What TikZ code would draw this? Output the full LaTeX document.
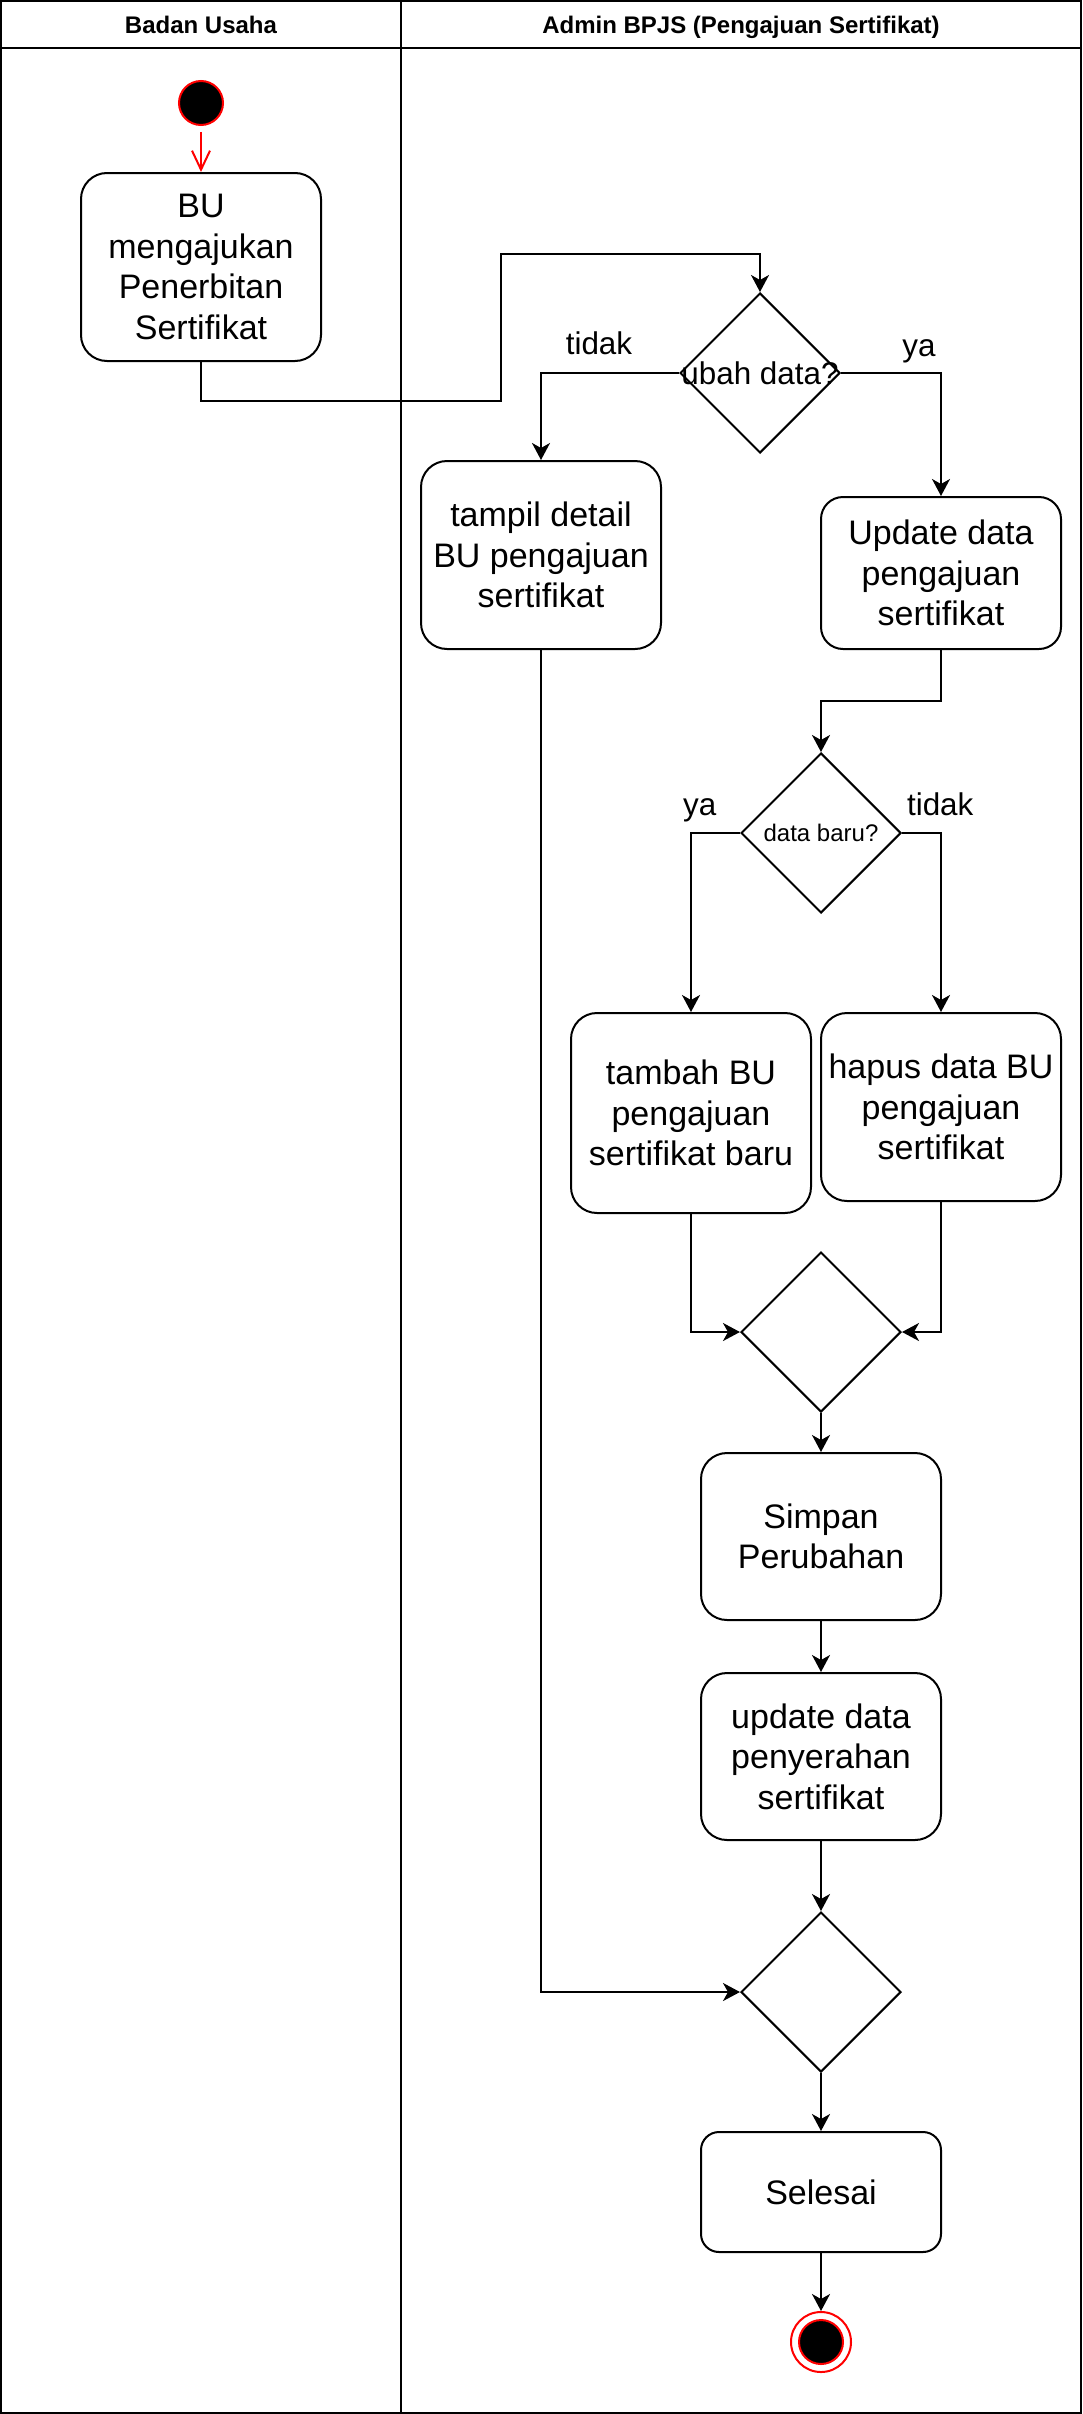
\documentclass[tikz,border=0pt]{standalone}
\usepackage{fontspec}
\setmainfont{Liberation Sans}
\usetikzlibrary{
  arrows.meta,
  shapes.geometric,
  positioning
}
\tikzset{
  flow/.style={-{Stealth[length=8.5pt,width=9pt,inset=2.5pt]}, line width=1pt},
  act/.style={draw, line width=1pt, rounded corners=13pt, minimum width=120pt,
    inner sep=0pt, align=center, font=\fontsize{17}{20.3}\selectfont},
  dec/.style={draw, diamond, line width=1pt, minimum width=80pt,
    minimum height=80pt, inner sep=0pt},
  lbl/.style={font=\fontsize{15.7}{18}\selectfont, text height=11.3pt, text depth=0pt},
  lane/.style={draw, line width=1pt},
  head/.style={font=\bfseries\fontsize{12}{14}\selectfont, text height=8.7pt, text depth=0pt}
}

\begin{document}
\begin{tikzpicture}[x=1pt, y=-1pt]
    \useasboundingbox (0,0) rectangle (541,1207);
    % swimlanes
    \draw[lane] (0.5,0.5) rectangle (540.5,1206.5);
    \draw[lane] (0.5,24) -- (540.5,24);
    \draw[lane] (200.5,0.5) -- (200.5,1206.5);
    \node[head] (hbu) at (100.5,12.3) {Badan Usaha};
    \node[head] (hadm) at (370.5,12.3) {Admin BPJS (Pengajuan Sertifikat)};

    \node[circle, draw=red, fill=black, line width=1pt, minimum size=22pt, inner sep=0pt] (start) at (100.5,51.5) {};
    \node[act, minimum height=94pt] (bu) at (100.5,133.5) {BU\\mengajukan\\Penerbitan\\Sertifikat};
    \node[dec, label={[lbl]center:ubah data?}] (d1) at (380,186.5) {};
    \node[act, minimum height=94pt] (tampil) at (270.5,277.5) {tampil detail\\BU pengajuan\\sertifikat};
    \node[act, minimum height=76pt, rounded corners=11pt] (upd) at (470.5,286.5) {Update data\\pengajuan\\sertifikat};
    \node[dec, label={[font=\fontsize{12}{14}\selectfont]center:data baru?}] (d2) at (410.5,416.5) {};
    \node[act, minimum height=100pt] (tambah) at (345.5,556.5) {tambah BU\\pengajuan\\sertifikat baru};
    \node[act, minimum height=94pt] (hapus) at (470.5,553.5) {hapus data BU\\pengajuan\\sertifikat};
    \node[dec] (m1) at (410.5,666) {};
    \node[act, minimum height=83.5pt, below=19.5pt of m1] (simpan) {Simpan\\Perubahan};
    \node[act, minimum height=83.5pt, below=25.5pt of simpan] (upd2) {update data\\penyerahan\\sertifikat};
    \node[dec, below=35pt of upd2] (d3) {};
    \node[act, minimum height=60pt, rounded corners=9pt, below=29pt of d3] (selesai) {Selesai};
    \node[circle, draw=red, fill=white, line width=1pt, minimum size=30pt, inner sep=0pt, below=29pt of selesai] (fin) {};
    \node[circle, draw=red, fill=black, line width=1pt, minimum size=22pt, inner sep=0pt] (fincore) at (fin) {};

    \draw[red, line width=1pt, -{Straight Barb[length=9.5pt,width=9pt]}, shorten <=3pt] (start) -- (bu);
    \draw[flow] (bu.south) -- ++(0,19.5) -| ++(150,-73.5) -| (d1.north);
    \draw[flow] (d1.west) -| node[lbl, pos=0.29, yshift=15pt] {tidak} (tampil.north);
    \draw[flow] (d1.east) -| node[lbl, pos=0.39, yshift=14pt] {ya} (upd.north);
    \draw[flow] (upd.south) -- ++(0,25.5) -| (d2.north);
    \draw[flow] (d2.west) -| node[lbl, pos=0.41, yshift=14.5pt] {ya} (tambah.north);
    \draw[flow] (d2.east) -| node[lbl, pos=0.49, yshift=14.5pt] {tidak} (hapus.north);
    \draw[flow] (tambah.south) |- (m1.west);
    \draw[flow] (hapus.south) |- (m1.east);
    \draw[flow] (m1) -- (simpan);
    \draw[flow] (simpan) -- (upd2);
    \draw[flow] (upd2) -- (d3);
    \draw[flow] (tampil.south) |- (d3.west);
    \draw[flow] (d3) -- (selesai);
    \draw[flow] (selesai) -- (fin);
\end{tikzpicture}
\end{document}
